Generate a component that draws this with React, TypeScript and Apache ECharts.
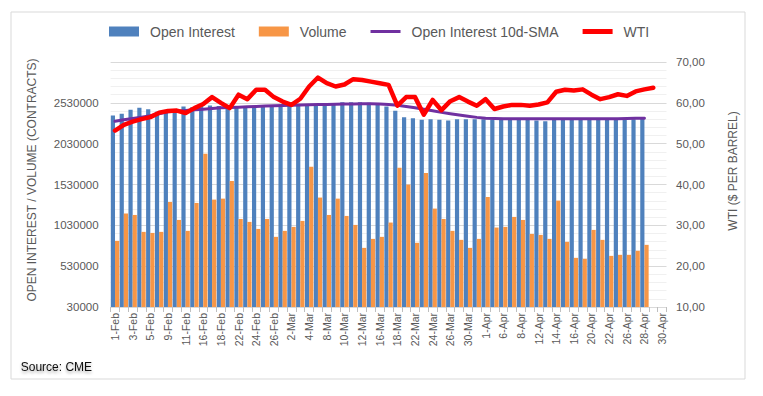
import React, { useEffect, useRef } from "react";
import * as echarts from "echarts";

const dates = [
  "1-Feb", "2-Feb", "3-Feb", "4-Feb", "5-Feb", "8-Feb", "9-Feb", "10-Feb", "11-Feb", "12-Feb",
  "16-Feb", "17-Feb", "18-Feb", "19-Feb", "22-Feb", "23-Feb", "24-Feb", "25-Feb", "26-Feb",
  "1-Mar", "2-Mar", "3-Mar", "4-Mar", "5-Mar", "8-Mar", "9-Mar", "10-Mar", "11-Mar", "12-Mar",
  "15-Mar", "16-Mar", "17-Mar", "18-Mar", "19-Mar", "22-Mar", "23-Mar", "24-Mar", "25-Mar",
  "26-Mar", "29-Mar", "30-Mar", "31-Mar",
  "1-Apr", "5-Apr", "6-Apr", "7-Apr", "8-Apr", "9-Apr", "12-Apr", "13-Apr", "14-Apr", "15-Apr",
  "16-Apr", "19-Apr", "20-Apr", "21-Apr", "22-Apr", "23-Apr", "26-Apr", "27-Apr", "28-Apr",
  "29-Apr", "30-Apr",
];

const openInterest = [
  2375000, 2395000, 2444000, 2469000, 2452000, 2420000, 2436000, 2436000, 2485000, 2477000,
  2497000, 2497000, 2490000, 2485000, 2485000, 2490000, 2490000, 2490000, 2490000, 2497000,
  2497000, 2497000, 2497000, 2506000, 2510000, 2518000, 2537000, 2537000, 2537000, 2530000,
  2514000, 2485000, 2432000, 2354000, 2342000, 2322000, 2330000, 2322000, 2314000, 2330000,
  2330000, 2330000, 2330000, 2322000, 2322000, 2322000, 2322000, 2322000, 2314000, 2305000,
  2322000, 2322000, 2322000, 2322000, 2322000, 2322000, 2322000, 2322000, 2322000, 2330000,
  2342000,
];

const volume = [
  840000, 1174000, 1157000, 950000, 937000, 950000, 1316000, 1096000, 962000, 1304000,
  1907000, 1345000, 1357000, 1573000, 1108000, 1072000, 986000, 1108000, 889000, 962000,
  1011000, 1084000, 1748000, 1370000, 1157000, 1357000, 1145000, 1035000, 754000, 864000,
  889000, 1064000, 1736000, 1529000, 816000, 1670000, 1235000, 1108000, 962000, 852000,
  754000, 864000, 1377000, 1003000, 1011000, 1133000, 1096000, 925000, 913000, 864000,
  1333000, 828000, 632000, 620000, 974000, 852000, 656000, 669000, 669000, 718000,
  791000,
];

const oiSma = [
  2305000, 2322000, 2338000, 2354000, 2371000, 2395000, 2420000, 2428000, 2436000, 2444000,
  2452000, 2460000, 2469000, 2473000, 2477000, 2481000, 2485000, 2490000, 2494000, 2497000,
  2500000, 2503000, 2506000, 2509000, 2511000, 2513000, 2515000, 2517000, 2518000, 2518000,
  2516000, 2510000, 2500000, 2485000, 2470000, 2452000, 2432000, 2413000, 2397000, 2382000,
  2366000, 2352000, 2342000, 2338000, 2336000, 2334000, 2334000, 2334000, 2334000, 2334000,
  2334000, 2334000, 2334000, 2334000, 2334000, 2334000, 2334000, 2336000, 2338000, 2340000,
  2342000,
];

const wti = [
  53.2, 54.6, 55.4, 56.0, 56.5, 57.6, 58.0, 58.1, 57.5, 58.7,
  59.7, 61.4, 60.0, 58.7, 62.0, 60.9, 63.2, 63.2, 61.4, 60.3,
  59.5, 61.0, 64.0, 66.2, 64.8, 64.0, 64.5, 65.8, 65.6, 65.2,
  64.8, 64.4, 59.3, 61.4, 61.4, 57.1, 60.7, 58.2, 60.4, 61.4,
  60.3, 59.3, 60.9, 58.5, 59.1, 59.5, 59.5, 59.3, 59.6, 60.1,
  62.7, 63.2, 63.0, 63.3, 62.0, 60.9, 61.4, 62.1, 61.7, 62.8,
  63.3, 63.7,
];

const leftMin = 30000;
const leftMax = 3030000;
const leftStep = 500000;
const rightMin = 10;
const rightMax = 70;
const rightStep = 10;

const FONT = "Liberation Sans";
const GREY = "#595959";

export default function App() {
  const ref = useRef<HTMLDivElement>(null);
  useEffect(() => {
    const chart = echarts.init(ref.current!, null, { renderer: "svg" });
    chart.setOption({
      animation: false,
      backgroundColor: "#ffffff",
      textStyle: { fontFamily: FONT },
      legend: {
        top: 24.5,
        left: 109,
        padding: 0,
        itemWidth: 30,
        itemHeight: 10,
        itemGap: 24,
        textStyle: { fontSize: 14, color: GREY, fontFamily: FONT, padding: [0, 0, 0, 6] },
        itemStyle: { borderWidth: 0 },
        data: [
          { name: "Open Interest", icon: "rect" },
          { name: "Volume", icon: "rect" },
          { name: "Open Interest 10d-SMA", icon: "path://M0,0 H30 V3 H0 Z" },
          { name: "WTI", icon: "path://M0,0 H30 V5 H0 Z" },
        ],
      },
      grid: { left: 110.6, right: 96.5, top: 62, bottom: 89, containLabel: false },
      xAxis: {
        type: "category",
        data: dates,
        boundaryGap: true,
        axisLine: { show: true, lineStyle: { color: "#d9d9d9" } },
        axisTick: { show: true, interval: 0, length: 5, lineStyle: { color: "#bfbfbf" } },
        axisLabel: { interval: 1, rotate: 90, fontSize: 10.5, color: GREY, margin: 6 },
      },
      yAxis: [
        {
          type: "value",
          min: leftMin,
          max: leftMax,
          interval: leftStep,
          axisLine: { show: false },
          axisTick: { show: false },
          axisLabel: {
            fontSize: 11.5,
            color: GREY,
            margin: 12,
            formatter: (v: number) => (v > 2600000 ? "" : String(v)),
          },
          splitLine: { show: true, lineStyle: { color: "#d9d9d9", width: 1 } },
          minorTick: { show: false, splitNumber: 5 },
          minorSplitLine: { show: true, lineStyle: { color: "#f0f0f0", width: 1 } },
        },
        {
          type: "value",
          position: "right",
          min: rightMin,
          max: rightMax,
          interval: rightStep,
          axisLine: { show: false },
          axisTick: { show: false },
          splitLine: { show: false },
          axisLabel: {
            fontSize: 11.5,
            color: GREY,
            margin: 9.5,
            formatter: (v: number) => v.toFixed(2).replace(".", ","),
          },
        },
      ],
      series: [
        {
          name: "Open Interest",
          type: "bar",
          data: openInterest,
          barWidth: 4.2,
          barGap: "0%",
          itemStyle: { color: "#4F81BD" },
        },
        {
          name: "Volume",
          type: "bar",
          data: volume,
          barWidth: 4.2,
          barGap: "0%",
          itemStyle: { color: "#F79646" },
        },
        {
          name: "Open Interest 10d-SMA",
          type: "line",
          data: oiSma,
          symbol: "none",
          z: 3,
          itemStyle: { color: "#7030A0" },
          lineStyle: { color: "#7030A0", width: 3, cap: "round", join: "round" },
        },
        {
          name: "WTI",
          type: "line",
          yAxisIndex: 1,
          data: wti,
          symbol: "none",
          z: 4,
          itemStyle: { color: "#FF0000" },
          lineStyle: { color: "#FF0000", width: 4.5, cap: "round", join: "round" },
        },
      ],
      graphic: [
        {
          type: "rect",
          shape: { x: 11, y: 12, width: 734, height: 367 },
          style: { fill: "none", stroke: "#d9d9d9", lineWidth: 1 },
          silent: true,
        },
        {
          type: "text",
          x: 31.7,
          y: 180,
          rotation: Math.PI / 2,
          style: {
            text: "OPEN INTEREST / VOLUME (CONTRACTS)",
            fontSize: 12,
            fontFamily: FONT,
            fill: GREY,
            align: "center",
            verticalAlign: "middle",
          },
        },
        {
          type: "text",
          x: 733,
          y: 171,
          rotation: Math.PI / 2,
          style: {
            text: "WTI ($ PER BARREL)",
            fontSize: 12,
            fontFamily: FONT,
            fill: GREY,
            align: "center",
            verticalAlign: "middle",
          },
        },
        {
          type: "text",
          x: 20.7,
          y: 367,
          style: {
            text: "Source: CME",
            fontSize: 12,
            fontFamily: FONT,
            fill: "#111111",
            align: "left",
            verticalAlign: "middle",
            textShadowBlur: 3,
            textShadowColor: "rgba(0,0,0,0.35)",
            textShadowOffsetY: 2,
          },
        },
      ],
    });
    return () => chart.dispose();
  }, []);
  return (
    <div
      ref={ref}
      style={{ position: "absolute", left: 0, top: 0, width: 763, height: 396, background: "#fff" }}
    />
  );
}
